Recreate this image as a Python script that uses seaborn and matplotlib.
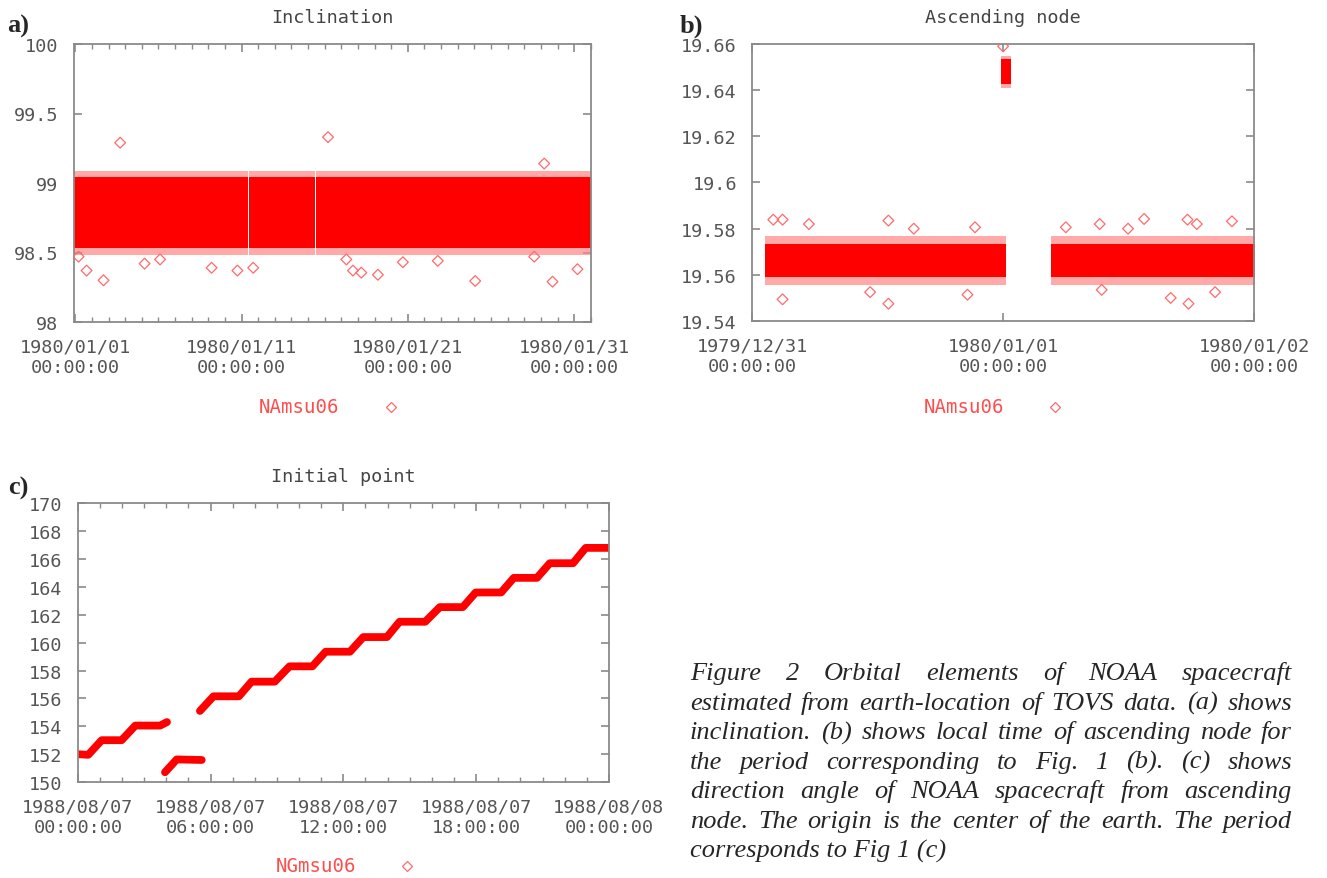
"""Orbital elements of NOAA spacecraft (inclination, ascending node, initial point)."""
import matplotlib

matplotlib.use("Agg")
import matplotlib.dates as mdates
import matplotlib.pyplot as plt
import pandas as pd
import seaborn as sns
from matplotlib.lines import Line2D

sns.set_style("ticks")
plt.rcParams["font.family"] = ["DejaVu Sans Mono"]

W, H = 1327, 879
RED = "#ff0000"
HALO = "#ff8585"
OUT = "#ff6a6a"
GREY = "#555555"
FRAME = "#8a8a8a"

# ---- (a) inclination, days since 1980-01-01 ----
a_seg_start = [-0.1, 10.45, 14.47]
a_seg_end = [10.36, 14.40, 31.02]
a_core = (98.53, 99.04)
a_halo = (98.48, 99.085)
a_ticks = [0, 10, 20, 30]
a_out_day = [2.7, 15.2, 28.2, 0.68, 1.7, 0.2, 4.17, 5.1, 8.2, 9.75, 10.7, 16.3, 16.7,
             17.2, 18.2, 19.7, 21.8, 24.05, 28.7, 30.2, 27.6]
a_out_val = [99.29, 99.33, 99.14, 98.37, 98.30, 98.47, 98.42, 98.45, 98.39, 98.37, 98.39,
             98.45, 98.37, 98.355, 98.34, 98.43, 98.44, 98.295, 98.29, 98.38, 98.47]

# ---- (b) ascending node local time, days since 1979-12-31 ----
b_seg_start = [0.05, 1.19]
b_seg_end = [1.01, 2.02]
b_core = (19.559, 19.5735)
b_halo = (19.5555, 19.577)
b_jump_day = (0.99, 1.03)
b_jump_core = (19.6425, 19.6535)
b_jump_halo = (19.641, 19.655)
b_out_day = [0.084, 0.121, 0.121, 0.543, 0.543, 0.226, 0.644, 0.888, 0.858, 0.47, 1.0,
             1.562, 1.739, 1.735, 1.772, 1.912, 1.668, 1.845, 1.25, 1.385, 1.498, 1.393]
b_out_val = [19.5839, 19.5839, 19.5494, 19.5835, 19.5475, 19.582, 19.580, 19.5806, 19.5514,
             19.5525, 19.659, 19.5842, 19.5475, 19.5839, 19.582, 19.5832, 19.550, 19.5525,
             19.5806, 19.582, 19.580, 19.5535]

# ---- (c) initial point, hours since 1988-08-07 00:00 ----
c1_hour = [-0.05, 0.47, 1.08, 1.98, 2.6, 3.72, 4.03]
c1_val = [152.0, 151.95, 153.0, 153.0, 154.05, 154.05, 154.3]
c2_hour = [3.94, 4.47, 5.6]
c2_val = [150.7, 151.62, 151.58]
c3_hour = [5.52, 6.13, 7.28, 7.85, 8.9, 9.57, 10.6, 11.2, 12.3, 12.9, 13.97, 14.54, 15.7,
           16.36, 17.4, 17.98, 19.13, 19.7, 20.75, 21.33, 22.38, 22.95, 24.08]
c3_val = [155.1, 156.15, 156.15, 157.2, 157.2, 158.3, 158.3, 159.35, 159.35, 160.4, 160.4,
          161.5, 161.5, 162.55, 162.55, 163.6, 163.6, 164.65, 164.65, 165.7, 165.7, 166.8, 166.8]

CAPTION = [
    "Figure 2 Orbital elements of NOAA spacecraft",
    "estimated from earth-location of TOVS data. (a) shows",
    "inclination. (b) shows local time of ascending node for",
    "the period corresponding to Fig. 1 (b). (c) shows",
    "direction angle of NOAA spacecraft from ascending",
    "node. The origin is the center of the earth. The period",
    "corresponds to Fig 1 (c)",
]


def px_axes(fig, left, top, right, bottom):
    return fig.add_axes([left / W, 1 - bottom / H, (right - left) / W, (bottom - top) / H])


def to_time(base, vals, unit):
    return pd.Timestamp(base) + pd.to_timedelta(vals, unit=unit)


def style(ax, title):
    for s in ax.spines.values():
        s.set_color(FRAME)
        s.set_linewidth(1.3)
    ax.tick_params(which="both", direction="in", top=True, right=True, color=FRAME,
                   labelcolor=GREY, labelsize=13.3, pad=11)
    ax.tick_params(which="major", length=6, width=1.2)
    ax.tick_params(which="minor", length=3.5, width=1.0)
    ax.set_title(title, fontsize=13.3, color="#444444", pad=16)
    ax.set_xlabel("")
    ax.set_ylabel("")
    ax.xaxis.set_major_formatter(mdates.DateFormatter("%Y/%m/%d\n%H:%M:%S"))


def band(ax, base, starts, ends, core, halo):
    for s, e in zip(starts, ends):
        t = to_time(base, [s, e], "D")
        ax.fill_between(t, halo[0], halo[1], color=HALO, alpha=0.7, lw=0)
        ax.fill_between(t, core[0], core[1], color=RED, lw=0)


def legend(fig, name, x_text, x_mark, y):
    fig.text(x_text / W, 1 - y / H, name, color="#ff4d4d", fontsize=13.7, va="center")
    fig.add_artist(Line2D([x_mark / W], [1 - y / H], marker="D", ms=5, mfc="none",
                          mec=OUT, mew=0.9, ls="", transform=fig.transFigure))


def outliers(ax, base, days, vals):
    df = pd.DataFrame({"t": to_time(base, days, "D"), "v": vals})
    sns.scatterplot(data=df, x="t", y="v", ax=ax, marker="D", s=30, facecolor="none",
                    edgecolor=OUT, linewidth=0.9, legend=False, zorder=3)


fig = plt.figure(figsize=(W / 100, H / 100), dpi=100)

# (a)
ax = px_axes(fig, 73.6, 45, 591.1, 323)
band(ax, "1980-01-01", a_seg_start, a_seg_end, a_core, a_halo)
outliers(ax, "1980-01-01", a_out_day, a_out_val)
ax.set_xlim(to_time("1980-01-01", [-0.1, 31.02], "D"))
ax.set_ylim(98, 100)
ax.set_yticks([98, 98.5, 99, 99.5, 100], ["98", "98.5", "99", "99.5", "100"])
ax.set_xticks(to_time("1980-01-01", a_ticks, "D"))
ax.xaxis.set_minor_locator(mdates.DayLocator())
style(ax, "Inclination")
legend(fig, "NAmsu06", 258.8, 391, 408)

# (b)
ax = px_axes(fig, 752.2, 45, 1254, 322)
band(ax, "1979-12-31", b_seg_start, b_seg_end, b_core, b_halo)
band(ax, "1979-12-31", [b_jump_day[0]], [b_jump_day[1]], b_jump_core, b_jump_halo)
outliers(ax, "1979-12-31", b_out_day, b_out_val)
ax.set_xlim(to_time("1979-12-31", [0, 2], "D"))
ax.set_ylim(19.54, 19.66)
ax.set_yticks([19.54, 19.56, 19.58, 19.6, 19.62, 19.64, 19.66],
              ["19.54", "19.56", "19.58", "19.6", "19.62", "19.64", "19.66"])
ax.xaxis.set_major_locator(mdates.DayLocator())
style(ax, "Ascending node")
legend(fig, "NAmsu06", 924, 1055, 408)

# (c)
ax = px_axes(fig, 77.8, 504.3, 608.9, 783)
steps = pd.concat([
    pd.DataFrame({"h": c1_hour, "v": c1_val, "seg": 1}),
    pd.DataFrame({"h": c2_hour, "v": c2_val, "seg": 2}),
    pd.DataFrame({"h": c3_hour, "v": c3_val, "seg": 3}),
])
steps["t"] = to_time("1988-08-07", steps["h"].to_numpy(), "h")
sns.lineplot(data=steps, x="t", y="v", units="seg", estimator=None, sort=False, ax=ax,
             color=RED, lw=5.6, solid_capstyle="round", solid_joinstyle="round")
ax.set_xlim(to_time("1988-08-07", [0, 24], "h"))
ax.set_ylim(150, 170)
ax.set_yticks(range(150, 171, 2))
ax.xaxis.set_major_locator(mdates.HourLocator(byhour=[0, 6, 12, 18]))
ax.xaxis.set_minor_locator(mdates.HourLocator())
style(ax, "Initial point")
legend(fig, "NGmsu06", 275.7, 407, 867)

# panel letters
for lab, x, y in [("a)", 7, 33), ("b)", 680, 33), ("c)", 8, 495)]:
    fig.text(x / W, 1 - y / H, lab, family="Liberation Serif", weight="bold",
             fontsize=19, va="baseline")

# justified italic caption
r = fig.canvas.get_renderer()
x0, x1, y0, dy = 690, 1292, 680, 29.6
kw = dict(family="Liberation Serif", style="italic", fontsize=19, va="baseline")
for i, line in enumerate(CAPTION):
    y = 1 - (y0 + i * dy) / H
    if i == len(CAPTION) - 1:
        fig.text(x0 / W, y, line, **kw)
        continue
    words = line.split()
    texts = [fig.text(0, y, w, **kw) for w in words]
    widths = [t.get_window_extent(r).width for t in texts]
    gap = (x1 - x0 - sum(widths)) / (len(words) - 1)
    x = x0
    for t, w in zip(texts, widths):
        t.set_x(x / W)
        x += w + gap

fig.savefig("out.png", dpi=100)
